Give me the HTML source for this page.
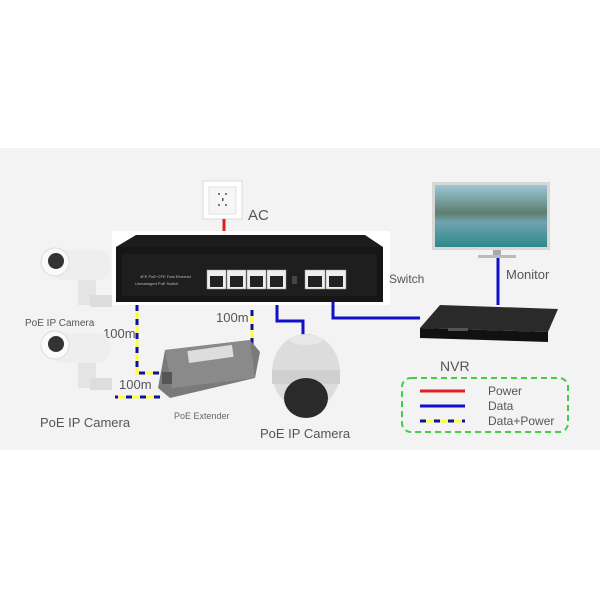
<!DOCTYPE html>
<html><head><style>
body{margin:0;background:#fff;}
svg{display:block;font-family:"Liberation Sans",sans-serif;}
</style></head><body>
<svg width="600" height="600" viewBox="0 0 600 600">
<rect x="0" y="148" width="600" height="302" fill="#f3f3f3"/>
<!-- AC outlet -->
<rect x="203" y="181" width="39" height="38" fill="#fff" stroke="#ddd"/>
<rect x="209" y="187" width="27" height="27" fill="#f6f6f6" stroke="#e2e2e2"/>
<circle cx="219" cy="194" r="1" fill="#555"/><circle cx="226" cy="194" r="1" fill="#555"/>
<rect x="222" y="198" width="1.5" height="3" fill="#555"/>
<circle cx="219" cy="205" r="1" fill="#555"/><circle cx="226" cy="205" r="1" fill="#555"/>
<text x="248" y="220" font-size="15" fill="#555">AC</text>
<line x1="224" y1="219" x2="224" y2="236" stroke="#e02020" stroke-width="3"/>
<!-- switch -->
<rect x="112" y="231" width="278" height="74" fill="#fff"/>
<path d="M136 235 L365 235 L383 247 L116 247 Z" fill="#1c1c1c"/>
<rect x="116" y="247" width="267" height="55" fill="#161616"/>
<rect x="122" y="254" width="255" height="42" fill="#1e1e1e"/>
<text x="140" y="278" font-size="4" fill="#bbb">4FE PoE+2FE Fast Ethernet</text>
<text x="135" y="285" font-size="4" fill="#bbb">Unmanaged PoE Switch</text>
<g fill="#eee" stroke="#999" stroke-width="0.5">
<rect x="207" y="270" width="19" height="19"/><rect x="227" y="270" width="19" height="19"/><rect x="247" y="270" width="19" height="19"/><rect x="267" y="270" width="19" height="19"/>
<rect x="305" y="270" width="20" height="19"/><rect x="326" y="270" width="20" height="19"/>
</g>
<g fill="#222">
<rect x="210" y="276" width="13" height="11"/><rect x="230" y="276" width="13" height="11"/><rect x="250" y="276" width="13" height="11"/><rect x="270" y="276" width="13" height="11"/>
<rect x="308" y="276" width="14" height="11"/><rect x="329" y="276" width="14" height="11"/>
</g>
<rect x="292" y="276" width="5" height="8" fill="#444"/>
<text x="389" y="283" font-size="12" fill="#555">Switch</text>
<!-- monitor -->
<rect x="432" y="182" width="118" height="68" fill="#d8d8d8"/>
<defs><linearGradient id="m" x1="0" y1="0" x2="0" y2="1"><stop offset="0" stop-color="#9cc6d8"/><stop offset="0.45" stop-color="#5d7f70"/><stop offset="0.6" stop-color="#6fa2b0"/><stop offset="1" stop-color="#2c8a8a"/></linearGradient></defs>
<rect x="435" y="185" width="112" height="62" fill="url(#m)"/>
<rect x="493" y="250" width="8" height="5" fill="#aaa"/><rect x="478" y="255" width="38" height="3" fill="#bbb"/>
<line x1="498" y1="258" x2="498" y2="305" stroke="#1010c8" stroke-width="3"/>
<text x="506" y="279" font-size="13" fill="#555">Monitor</text>
<!-- NVR -->
<path d="M440 305 L558 309 L548 332 L420 328 Z" fill="#2a2a2a"/>
<path d="M420 328 L548 332 L548 342 L420 338 Z" fill="#111"/>
<rect x="448" y="328" width="20" height="3" fill="#555"/>
<text x="440" y="371" font-size="14" fill="#555">NVR</text>
<polyline points="333,302 333,318 420,318" fill="none" stroke="#1010c8" stroke-width="3"/>
<polyline points="277,305 277,321 303,321 303,338" fill="none" stroke="#1010c8" stroke-width="3"/>
<!-- dome camera -->
<ellipse cx="306" cy="372" rx="34" ry="38" fill="#dcdcdc"/>
<rect x="272" y="370" width="68" height="14" fill="#cfcfcf"/>
<ellipse cx="306" cy="398" rx="22" ry="20" fill="#2a2a2a"/>
<ellipse cx="306" cy="340" rx="16" ry="5" fill="#e8e8e8"/>
<text x="260" y="438" font-size="13" fill="#555">PoE IP Camera</text>
<!-- data+power lines -->
<g fill="none" stroke-width="3">
<polyline points="137,305 137,373 160,373" stroke="#ffff40"/>
<polyline points="137,305 137,373 160,373" stroke="#1010a0" stroke-dasharray="6 8"/>
<polyline points="252,310 252,345" stroke="#ffff40"/>
<polyline points="252,310 252,345" stroke="#1010a0" stroke-dasharray="6 8"/>
<polyline points="160,397 115,397" stroke="#ffff40"/>
<polyline points="160,397 115,397" stroke="#1010a0" stroke-dasharray="6 8"/>
</g>
<text x="103" y="338" font-size="13" fill="#555">100m</text>
<text x="119" y="389" font-size="13" fill="#555">100m</text>
<text x="216" y="322" font-size="13" fill="#555">100m</text>
<!-- extender -->
<path d="M165 350 L250 340 L260 352 L255 378 L170 398 L158 388 Z" fill="#7a7a7a"/>
<path d="M165 350 L250 340 L255 378 L172 388 Z" fill="#8a8a8a"/>
<rect x="188" y="348" width="45" height="12" fill="#ddd" transform="rotate(-8 210 354)"/>
<rect x="162" y="372" width="10" height="12" fill="#555"/>
<text x="174" y="419" font-size="9" fill="#666">PoE Extender</text>
<!-- cameras -->
<g>
<rect x="50" y="250" width="60" height="30" rx="12" fill="#eee"/>
<ellipse cx="55" cy="262" rx="14" ry="14" fill="#fafafa" stroke="#ddd"/>
<ellipse cx="56" cy="261" rx="8" ry="8" fill="#333"/>
<rect x="78" y="280" width="18" height="25" fill="#e4e4e4"/>
<rect x="90" y="295" width="22" height="12" fill="#ddd"/>
</g>
<text x="25" y="326" font-size="10" fill="#555">PoE IP Camera</text>
<g>
<rect x="50" y="333" width="60" height="30" rx="12" fill="#eee"/>
<ellipse cx="55" cy="345" rx="14" ry="14" fill="#fafafa" stroke="#ddd"/>
<ellipse cx="56" cy="344" rx="8" ry="8" fill="#333"/>
<rect x="78" y="363" width="18" height="25" fill="#e4e4e4"/>
<rect x="90" y="378" width="22" height="12" fill="#ddd"/>
</g>
<text x="40" y="427" font-size="13" fill="#555">PoE IP Camera</text>
<!-- legend -->
<rect x="402" y="378" width="166" height="54" rx="9" fill="none" stroke="#44cc44" stroke-width="2" stroke-dasharray="6 4"/>
<line x1="420" y1="391" x2="465" y2="391" stroke="#e02020" stroke-width="3"/>
<line x1="420" y1="406" x2="465" y2="406" stroke="#1010c8" stroke-width="3"/>
<line x1="420" y1="421" x2="465" y2="421" stroke="#ffff40" stroke-width="3"/>
<line x1="420" y1="421" x2="465" y2="421" stroke="#1010a0" stroke-width="3" stroke-dasharray="6 8"/>
<text x="488" y="395" font-size="12" fill="#555">Power</text>
<text x="488" y="410" font-size="12" fill="#555">Data</text>
<text x="488" y="425" font-size="12" fill="#555">Data+Power</text>
</svg>
</body></html>
